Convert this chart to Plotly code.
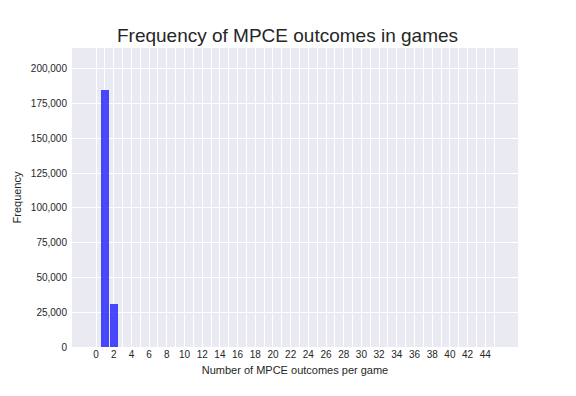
import plotly.graph_objects as go

outcomes = [1, 2]
frequency = [185000, 31000]
x_tick_values = list(range(0, 46))
x_tick_labels = [str(v) if (v % 2 == 0 and v <= 44) else "" for v in x_tick_values]
y_tick_values = [0, 25000, 50000, 75000, 100000, 125000, 150000, 175000, 200000]

fig = go.Figure()
fig.add_trace(go.Bar(
    x=outcomes, y=frequency, width=0.9,
    marker=dict(color="rgba(0,0,255,0.7)", line=dict(width=0)),
))

font_family = "Liberation Sans, Arial, sans-serif"
W, H = 568, 388
fig.update_layout(
    width=W, height=H,
    margin=dict(l=64, r=58, t=40, b=49),
    paper_bgcolor="white", plot_bgcolor="#EAEAF2",
    showlegend=False,
    font=dict(family=font_family, color="#262626", size=10),
    title=dict(text="Frequency of MPCE outcomes in games", x=279.5 / W, xref="container",
               xanchor="center", y=1 - 27 / H, yref="container", yanchor="middle",
               font=dict(size=19, color="#262626")),
    bargap=0,
)
fig.update_xaxes(
    range=[-2.72, 47.7], tickvals=x_tick_values, ticktext=x_tick_labels,
    showgrid=True, gridcolor="white", gridwidth=1, zeroline=False,
    showline=False, ticks="", tickfont=dict(size=10, color="#262626"),
    automargin=False,
    title=dict(text="Number of MPCE outcomes per game", font=dict(size=11, color="#262626"), standoff=7),
)
fig.update_yaxes(
    range=[0, 215000], tickvals=y_tick_values, tickformat=",",
    showgrid=True, gridcolor="white", gridwidth=1, zeroline=False,
    showline=False, ticks="", tickfont=dict(size=10, color="#262626"),
    ticklabelstandoff=4, automargin=False,
    title=dict(text="Frequency", font=dict(size=11, color="#262626"), standoff=6),
)
fig.write_html("out.html")
